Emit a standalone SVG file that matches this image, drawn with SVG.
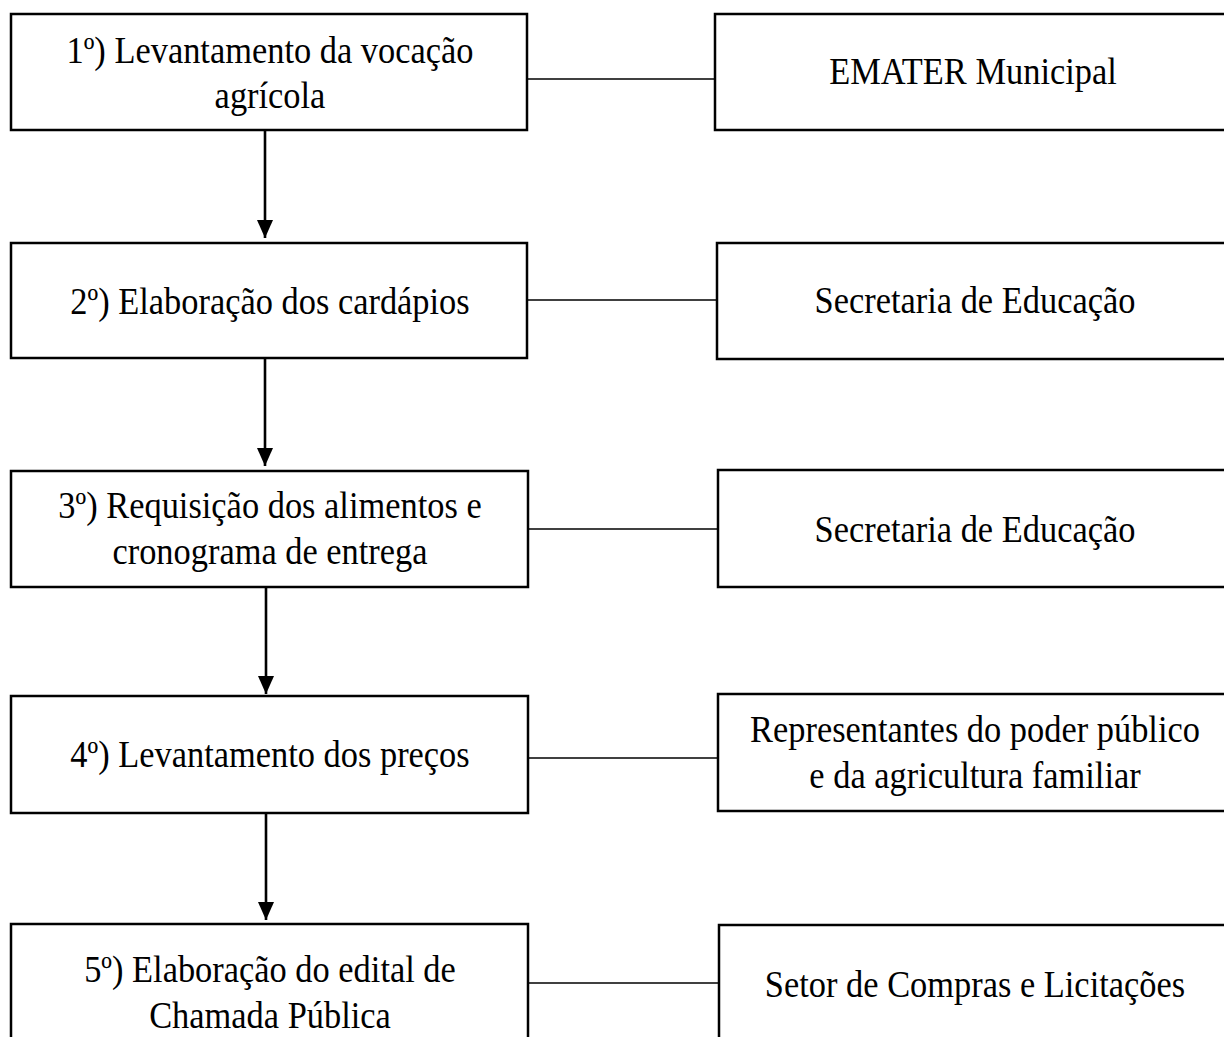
<svg xmlns="http://www.w3.org/2000/svg" width="1224" height="1037" viewBox="0 0 1224 1037">
<style>
  .box { fill: #ffffff; stroke: #000000; stroke-width: 2.5; }
  .lbl { font-family: "Liberation Serif", "Times New Roman", serif; font-size: 34.4px; fill: #000000; text-anchor: middle; }
  .link { stroke: #000000; stroke-width: 1.6; fill: none; }
  .arrow { stroke: #000000; stroke-width: 2.6; fill: none; }
</style>
<defs>
  <marker id="ah" markerUnits="userSpaceOnUse" markerWidth="18" markerHeight="16" refX="18" refY="8" orient="auto" viewBox="0 0 18 16">
    <path d="M0,0 L18,8 L0,16 Z" fill="#000000"/>
  </marker>
</defs>
<rect width="1224" height="1037" fill="#ffffff"/>

<g id="connectors">
  <line class="link" x1="528" y1="79" x2="716" y2="79"/>
  <line class="link" x1="528" y1="300" x2="717" y2="300"/>
  <line class="link" x1="528" y1="529" x2="718" y2="529"/>
  <line class="link" x1="528" y1="758" x2="718" y2="758"/>
  <line class="link" x1="528" y1="983" x2="719" y2="983"/>
  <line class="arrow" x1="265" y1="131" x2="265" y2="238" marker-end="url(#ah)"/>
  <line class="arrow" x1="265" y1="359" x2="265" y2="466" marker-end="url(#ah)"/>
  <line class="arrow" x1="266" y1="588" x2="266" y2="694" marker-end="url(#ah)"/>
  <line class="arrow" x1="266" y1="814" x2="266" y2="920" marker-end="url(#ah)"/>
</g>

<g id="step1">
  <rect class="box" x="11" y="14" width="516" height="116"/>
  <text class="lbl" transform="translate(270,63) scale(1,1.1)">1º) Levantamento da vocação</text>
  <text class="lbl" transform="translate(270,108) scale(1,1.1)">agrícola</text>
</g>
<g id="step2">
  <rect class="box" x="11" y="243" width="516" height="115"/>
  <text class="lbl" transform="translate(270,314) scale(1,1.1)">2º) Elaboração dos cardápios</text>
</g>
<g id="step3">
  <rect class="box" x="11" y="471" width="517" height="116"/>
  <text class="lbl" transform="translate(270,518) scale(1,1.1)">3º) Requisição dos alimentos e</text>
  <text class="lbl" transform="translate(270,564) scale(1,1.1)">cronograma de entrega</text>
</g>
<g id="step4">
  <rect class="box" x="11" y="696" width="517" height="117"/>
  <text class="lbl" transform="translate(270,767) scale(1,1.1)">4º) Levantamento dos preços</text>
</g>
<g id="step5">
  <rect class="box" x="11" y="924" width="517" height="130"/>
  <text class="lbl" transform="translate(270,982) scale(1,1.1)">5º) Elaboração do edital de</text>
  <text class="lbl" transform="translate(270,1028) scale(1,1.1)">Chamada Pública</text>
</g>

<g id="actor1">
  <rect class="box" x="715" y="14" width="516" height="116"/>
  <text class="lbl" transform="translate(973,84) scale(1,1.1)">EMATER Municipal</text>
</g>
<g id="actor2">
  <rect class="box" x="717" y="243" width="516" height="116"/>
  <text class="lbl" transform="translate(975,313) scale(1,1.1)">Secretaria de Educação</text>
</g>
<g id="actor3">
  <rect class="box" x="718" y="470" width="516" height="117"/>
  <text class="lbl" transform="translate(975,542) scale(1,1.1)">Secretaria de Educação</text>
</g>
<g id="actor4">
  <rect class="box" x="718" y="694" width="516" height="117"/>
  <text class="lbl" transform="translate(975,742) scale(1,1.1)">Representantes do poder público</text>
  <text class="lbl" transform="translate(975,788) scale(1,1.1)">e da agricultura familiar</text>
</g>
<g id="actor5">
  <rect class="box" x="719" y="925" width="516" height="130"/>
  <text class="lbl" transform="translate(975,997) scale(1,1.1)">Setor de Compras e Licitações</text>
</g>
</svg>
